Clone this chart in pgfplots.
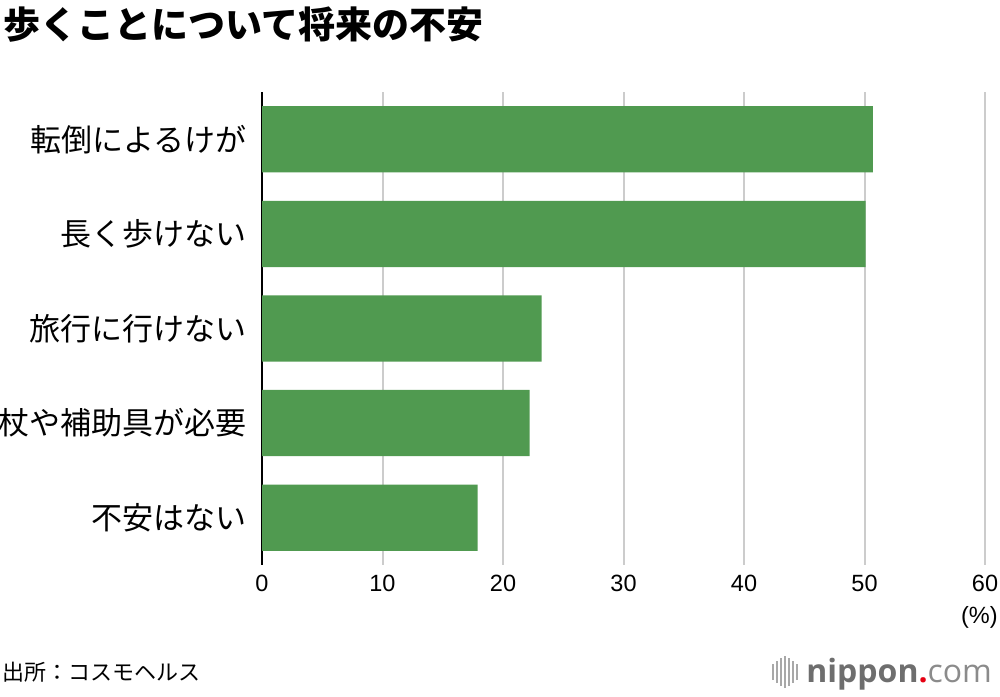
\documentclass[border=0pt]{standalone}
\usepackage{fontspec}
\setmainfont{Noto Sans CJK JP}
\newfontfamily\lib{Liberation Sans}
\newfontfamily\logo{Open Sans}
\usepackage{pgfplots}
\pgfplotsset{compat=1.18}
\definecolor{bargreen}{RGB}{80,154,80}
\definecolor{gridgray}{RGB}{204,204,204}
\definecolor{logogray}{RGB}{110,110,110}
\definecolor{logored}{RGB}{230,0,18}
\begin{document}
\begin{tikzpicture}[x=0.5pt,y=0.5pt]
\useasboundingbox (0,0) rectangle (1000,696);
\begin{axis}[at={(131pt,65.5pt)}, anchor=south west, scale only axis,
  width=361.5pt, height=236.5pt,
  xmin=0, xmax=60, ymin=-0.5, ymax=4.5, y dir=reverse,
  xbar, bar width=0.7,
  axis lines*=left,
  x axis line style={draw=none},
  y axis line style={black, line width=0.75pt},
  major tick length=0pt,
  ytick={0,...,4},
  yticklabels={転倒によるけが,長く歩けない,旅行に行けない,杖や補助具が必要,不安はない},
  yticklabel style={font=\fontsize{15.5pt}{17pt}\selectfont, anchor=east, inner sep=0pt, xshift=-7.5pt},
  xtick={0,10,...,60},
  xticklabel style={font=\lib\fontsize{11.75pt}{13pt}\selectfont, anchor=north, inner sep=0pt, yshift=-5pt},
  /pgf/number format/assume math mode=true,
  xmajorgrids, major grid style={gridgray, line width=1pt},
]
\addplot[fill=bargreen, draw=none] coordinates {(50.7,0) (50.1,1) (23.2,2) (22.2,3) (17.9,4)};
\end{axis}
\node[anchor=west, inner sep=0pt, font=\bfseries\fontsize{18.5pt}{20pt}\selectfont] at (3,671) {歩くことについて将来の不安};
\node[anchor=east, inner sep=0pt, font=\lib\fontsize{11.75pt}{13pt}\selectfont] at (998,79) {(\%)};
\node[anchor=west, inner sep=0pt, font=\fontsize{11pt}{12pt}\selectfont] at (2,24) {出所：コスモヘルス};
\foreach \xx/\hh in {773/8,777/11,781/14,785/16,789/14,793/11,797/8}
  \draw[logogray!60, line width=1pt] (\xx,24-\hh) -- (\xx,24+\hh);
\node[anchor=base west, inner sep=0pt, font=\logo\fontsize{16pt}{18pt}\selectfont] at (806,14)
  {\textcolor{logogray}{\bfseries nippon}\textcolor{logored}{\bfseries .}\textcolor{logogray!80}{com}};
\end{tikzpicture}
\end{document}
